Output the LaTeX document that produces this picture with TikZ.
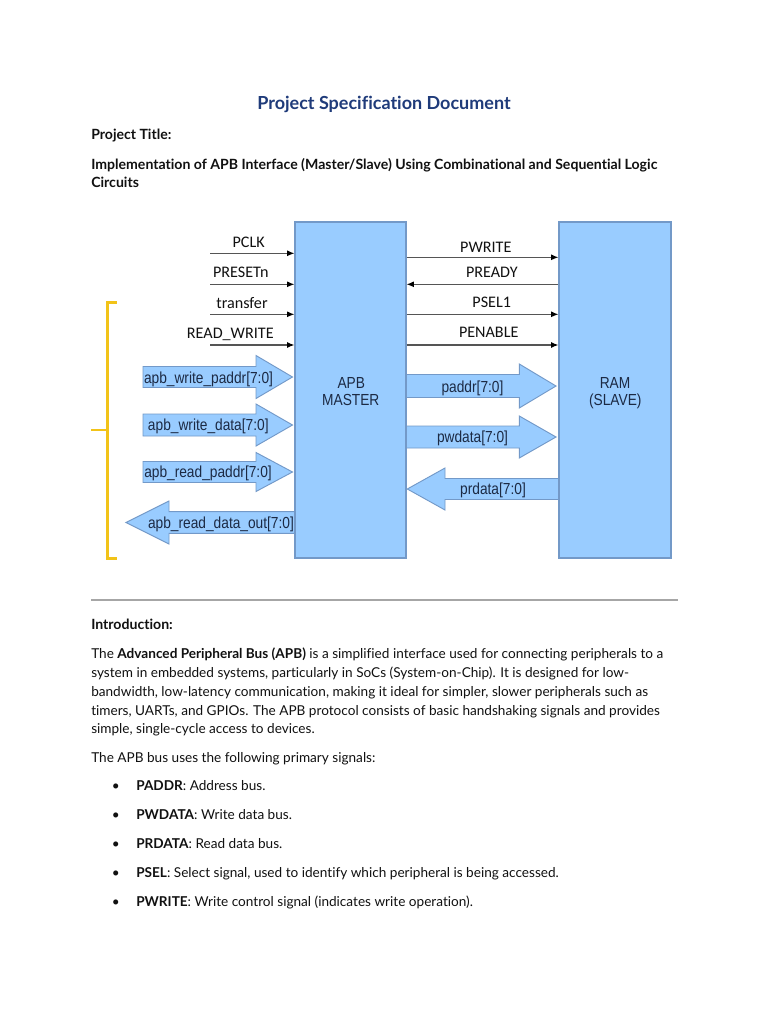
\documentclass[tikz,border=0pt]{standalone}
\usepackage{fontspec}
\usepackage{graphicx}
\setmainfont{Lato}[Ligatures=NoCommon]
\newfontfamily\calib{Carlito}
\newfontfamily\arialf{Liberation Sans}
\usetikzlibrary{arrows.meta,calc}

\definecolor{boxfill}{HTML}{99CCFF}
\definecolor{boxline}{HTML}{7399C8}
\definecolor{navy}{HTML}{1F3B7A}
\definecolor{gold}{HTML}{F2C318}
\definecolor{sigline}{HTML}{555555}
\definecolor{txt}{HTML}{111111}
\definecolor{bustxt}{HTML}{1C2A44}
\definecolor{rulec}{HTML}{A6A6A6}

\newlength\Lw
\newcommand\busarrow[6]{\path[bus] (#1,{#4-#5}) -- (#2,{#4-#5}) -- (#2,{#4-#6}) -- (#3,#4) -- (#2,{#4+#6}) -- (#2,{#4+#5}) -- (#1,{#4+#5}) -- cycle;}
\newcommand\bx[1]{\scalebox{\busx}[1]{#1}}

\AtBeginDocument{%
\settowidth\Lw{\fontsize{10pt}{12pt}\selectfont The \textbf{Advanced Peripheral Bus (APB)} is a simplified interface used for connecting peripherals to a}%
\pgfmathsetmacro\bodysz{10*429/\Lw}%
\global\let\bodysz\bodysz
\settowidth\Lw{\fontsize{10pt}{12pt}\selectfont\bfseries Implementation of APB Interface (Master/Slave) Using Combinational and Sequential Logic}%
\pgfmathsetmacro\headsz{10*424.5/\Lw}%
\global\let\headsz\headsz
\settowidth\Lw{\fontsize{10pt}{12pt}\selectfont\bfseries Project Specification Document}%
\pgfmathsetmacro\titlesz{10*190/\Lw}%
\global\let\titlesz\titlesz
\settowidth\Lw{\fontsize{10pt}{12pt}\selectfont\calib READ\_WRITE}%
\pgfmathsetmacro\sigsz{10*65/\Lw}%
\global\let\sigsz\sigsz
\settowidth\Lw{\fontsize{12pt}{14pt}\selectfont\arialf apb\_write\_paddr[7:0]}%
\pgfmathsetmacro\busx{96.75/\Lw}%
\global\let\busx\busx
}

\begin{document}
\begin{tikzpicture}[x=0.75pt,y=-0.75pt,
  blk/.style={draw=boxline, fill=boxfill, line width=0.8pt, inner sep=0pt, minimum height=252pt},
  bus/.style={draw=boxline, fill=boxfill, line width=0.7pt, line join=miter},
  sig/.style={draw=sigline, line width=1pt, -{Latex[length=5.5pt,width=4.5pt,color=black]}},
  siglab/.style={font=\calib\fontsize{\sigsz pt}{\sigsz pt}\selectfont, text=txt, inner sep=0pt, anchor=base},
  buslab/.style={font=\arialf\fontsize{12pt}{13.5pt}\selectfont, text=bustxt, inner sep=0pt, anchor=base},
  body/.style={font=\fontsize{\bodysz pt}{\bodysz pt}\selectfont, text=txt, inner sep=0pt, anchor=base west},
  head/.style={font=\fontsize{\headsz pt}{\headsz pt}\selectfont\bfseries, text=txt, inner sep=0pt, anchor=base west},
  brace/.style={draw=gold, line width=1.9pt}
]
\fill[white] (0,0) rectangle (768,1024);
\useasboundingbox (0,0) rectangle (768,1024);

% --- header text ---
\node[font=\fontsize{\titlesz pt}{\titlesz pt}\selectfont\bfseries, text=navy, inner sep=0pt, anchor=base] (title) at (384,109.3) {Project Specification Document};
\node[head] (ptitle) at (91,139.3) {Project Title:};
\node[head] (impl1) at (91,169.3) {Implementation of APB Interface (Master/Slave) Using Combinational and Sequential Logic};
\node[head] (impl2) at (91,187.8) {Circuits};

% --- bus arrows (drawn below boxes) ---
\busarrow{143}{256}{292.5}{377}{10.5}{21.5}
\busarrow{143}{256}{292.5}{425}{11}{21}
\busarrow{143}{256}{292.5}{472}{10.5}{19.5}
\busarrow{295}{169}{126}{522.5}{10.8}{21.5}
\busarrow{406}{519.3}{556}{386}{11.5}{22}
\busarrow{406}{519.3}{556}{437}{11}{21}
\busarrow{559}{445}{407.3}{489}{10.5}{21}

% --- blocks ---
\node[blk, minimum width=83.25pt] (master) at (350.5,390) {};
\node[blk, minimum width=84pt] (ram) at (615,390) {};
\node[buslab] (mapb) at (351.3,388.3) {\bx{APB}};
\node[buslab] (mmaster) at (350.8,405.8) {\bx{MASTER}};
\node[buslab] (rram) at (615,388.3) {\bx{RAM}};
\node[buslab] (rslave) at (615.3,405.8) {\bx{(SLAVE)}};

% --- left control inputs ---
\coordinate (ipclk) at (210,253.3);
\coordinate (ipreset) at (210,284.3);
\coordinate (itransfer) at (210,314.3);
\coordinate (irw) at (210,345);
\draw[sig] (ipclk) -- (ipclk -| master.west);
\draw[sig] (ipreset) -- (ipreset -| master.west);
\draw[sig] (itransfer) -- (itransfer -| master.west);
\draw[sig] (irw) -- (irw -| master.west);
\node[siglab] (lpclk) at (248.7,247.7) {PCLK};
\node[siglab] (lpreset) at (240.8,277.7) {PRESETn};
\node[siglab] (ltransfer) at (242,308) {transfer};
\node[siglab] (lrw) at (230.3,338.3) {READ\_WRITE};

% --- master/slave control lines ---
\coordinate (ypwrite) at (480,257.3);
\coordinate (ypready) at (480,284.3);
\coordinate (ypsel) at (480,314.3);
\coordinate (ypenable) at (480,345);
\draw[sig] (master.east |- ypwrite) -- (ram.west |- ypwrite);
\draw[sig] (ram.west |- ypready) -- (master.east |- ypready);
\draw[sig] (master.east |- ypsel) -- (ram.west |- ypsel);
\draw[sig] (master.east |- ypenable) -- (ram.west |- ypenable);
\node[siglab] (lpwrite) at (485.8,252.7) {PWRITE};
\node[siglab] (lpready) at (491.8,277.7) {PREADY};
\node[siglab] (lpsel) at (491.7,307.7) {PSEL1};
\node[siglab] (lpenable) at (488.7,337.5) {PENABLE};

% --- bus labels ---
\node[buslab] (bwpaddr) at (208.5,383) {\bx{apb\_write\_paddr[7:0]}};
\node[buslab] (bwdata) at (208.3,430.5) {\bx{apb\_write\_data[7:0]}};
\node[buslab] (brpaddr) at (208,477.7) {\bx{apb\_read\_paddr[7:0]}};
\node[buslab] (brdata) at (221,528.4) {\bx{apb\_read\_data\_out[7:0]}};
\node[buslab] (bpaddr) at (472.5,392.3) {\bx{paddr[7:0]}};
\node[buslab] (bpwdata) at (472.5,442.3) {\bx{pwdata[7:0]}};
\node[buslab] (bprdata) at (493,494) {\bx{prdata[7:0]}};

% --- yellow bracket ---
\coordinate (brt) at (107.7,302.7);
\coordinate (brb) at (107.7,558.3);
\coordinate (brm) at (107.7,430);
\draw[brace] ($(brt)+(9,0)$) -- (brt) -- (brb) -- ($(brb)+(9,0)$);
\draw[brace] (brm) -- ($(brm)+(-16.7,0)$);

% --- rule ---
\coordinate (rl) at (91,600);
\coordinate (rr) at (678,600);
\draw[rulec, line width=1.9pt] (rl) -- (rr);

% --- introduction ---
\node[head] (intro) at (91,629) {Introduction:};
\node[body] (b1) at (91,658.3) {The \textbf{Advanced Peripheral Bus (APB)} is a simplified interface used for connecting peripherals to a};
\node[body] (b2) at (91,677.3) {system in embedded systems, particularly in SoCs (System-on-Chip). It is designed for low-};
\node[body] (b3) at (91,696.3) {bandwidth, low-latency communication, making it ideal for simpler, slower peripherals such as};
\node[body] (b4) at (91,715) {timers, UARTs, and GPIOs. The APB protocol consists of basic handshaking signals and provides};
\node[body] (b5) at (91,733.7) {simple, single-cycle access to devices.};
\node[body] (b6) at (91,762.3) {The APB bus uses the following primary signals:};

% --- bullets ---
\foreach \yy/\nm/\tx [count=\i] in {790.7/PADDR/{Address bus.},819.3/PWDATA/{Write data bus.},848.3/PRDATA/{Read data bus.},877.3/PSEL/{Select signal, used to identify which peripheral is being accessed.},906/PWRITE/{Write control signal (indicates write operation).}}{
  \node[body, anchor=base] (dot\i) at (115.7,\yy) {\textbullet};
  \node[body] (li\i) at (136,\yy) {\textbf{\nm}: \tx};
}
\end{tikzpicture}
\end{document}
